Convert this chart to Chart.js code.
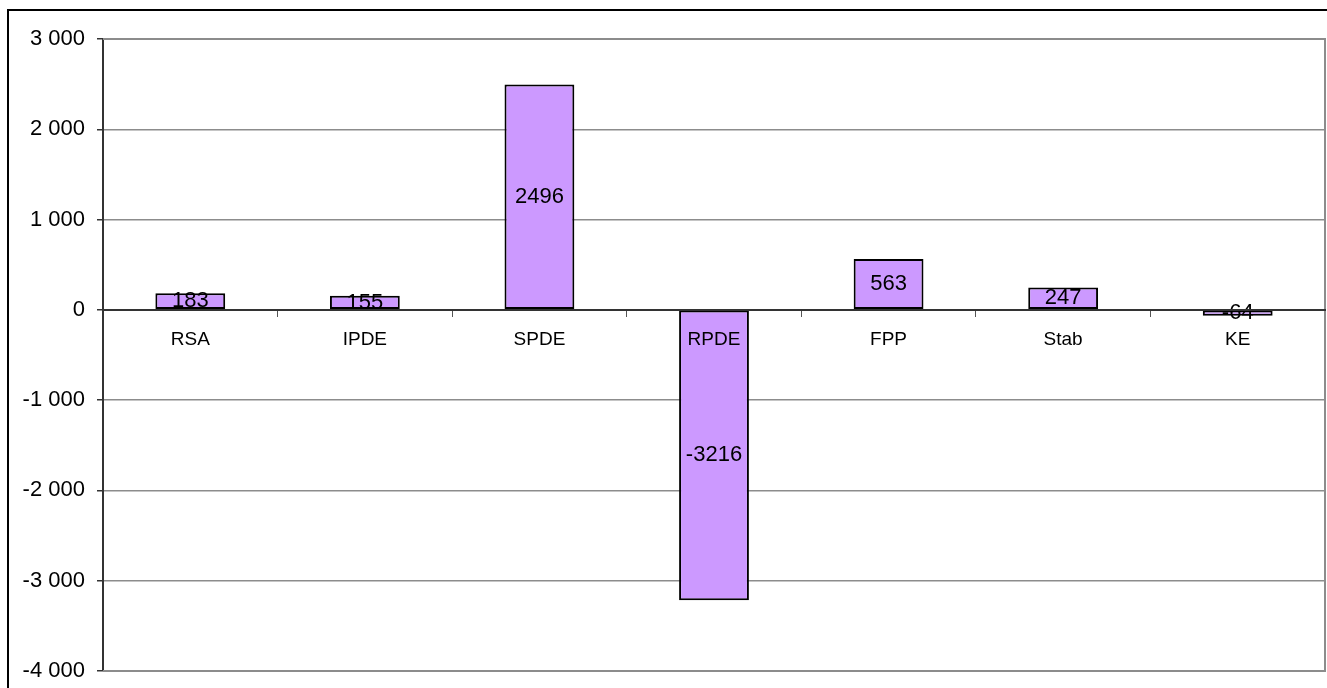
<!DOCTYPE html>
<html>
<head>
<meta charset="utf-8">
<script src="https://cdn.jsdelivr.net/npm/chart.js@4.4.1/dist/chart.umd.min.js"></script>
<style>
  html, body { margin: 0; padding: 0; background: #fff; overflow: hidden; }
  #wrap { position: relative; width: 1327px; height: 688px; }
  #frame {
    position: absolute; left: 7px; top: 9px;
    width: 1340px; height: 700px;
    border: 2px solid #000; box-sizing: border-box;
  }
  #chart { position: absolute; left: 0; top: 0; }
</style>
</head>
<body>
<div id="wrap">
  <div id="frame"></div>
  <canvas id="chart" width="1327" height="688"></canvas>
</div>
<script>
// terms
const kategori = ['RSA', 'IPDE', 'SPDE', 'RPDE', 'FPP', 'Stab', 'KE'];
const nilai = [183, 155, 2496, -3216, 563, 247, -64];

// y axis
const yNilai = [-4000, -3000, -2000, -1000, 0, 1000, 2000, 3000];
const yLabel = ['-4 000', '-3 000', '-2 000', '-1 000', '0', '1 000', '2 000', '3 000'];

const fontUtama = "Arial, 'Liberation Sans', sans-serif";

// gray frame round the plot area
const bingkaiPlot = {
  id: 'bingkaiPlot',
  beforeDatasetsDraw(chart) {
    const { ctx, chartArea: a } = chart;
    ctx.save();
    ctx.strokeStyle = '#8c8c8c';
    ctx.lineWidth = 2;
    ctx.beginPath();
    ctx.moveTo(a.left, a.top);
    ctx.lineTo(a.right, a.top);
    ctx.lineTo(a.right, a.bottom);
    ctx.lineTo(a.left, a.bottom);
    ctx.stroke();
    ctx.restore();
  }
};

// value text in the middle of each bar
const labelNilai = {
  id: 'labelNilai',
  afterDatasetsDraw(chart) {
    const { ctx } = chart;
    const meta = chart.getDatasetMeta(0);
    ctx.save();
    ctx.font = '22px ' + fontUtama;
    ctx.fillStyle = '#000';
    ctx.textAlign = 'center';
    ctx.textBaseline = 'middle';
    meta.data.forEach((bar, i) => {
      const tengah = (bar.y + bar.base) / 2;
      ctx.fillText(String(nilai[i]), bar.x, tengah);
    });
    ctx.restore();
  }
};

new Chart(document.getElementById('chart'), {
  type: 'bar',
  data: {
    labels: kategori,
    datasets: [{
      data: nilai,
      backgroundColor: '#cc99ff',
      borderColor: '#000',
      borderWidth: 2,
      borderSkipped: false,
      categoryPercentage: 1,
      barPercentage: 0.4
    }]
  },
  options: {
    responsive: false,
    animation: false,
    devicePixelRatio: 1,
    layout: { padding: { top: 39, right: 2, bottom: 17, left: 0 } },
    plugins: {
      legend: { display: false },
      tooltip: { enabled: false }
    },
    scales: {
      x: {
        position: { y: 0 },
        offset: true,
        grid: {
          offset: true,
          drawOnChartArea: false,
          drawTicks: true,
          tickLength: 6,
          color: '#555'
        },
        border: { display: true, color: '#333', width: 2, z: 1 },
        ticks: {
          z: 1, // category names sit on top of the bars
          color: '#000',
          padding: 13,
          font: { family: fontUtama, size: 19 }
        }
      },
      y: {
        min: yNilai[0],
        max: yNilai[yNilai.length - 1],
        afterBuildTicks: scale => {
          scale.ticks = yNilai.map(v => ({ value: v }));
        },
        afterFit: scale => {
          scale.width = 103;
          scale.paddingTop = 0;
          scale.paddingBottom = 0;
        },
        grid: {
          color: '#8c8c8c',
          lineWidth: 1.5,
          tickLength: 6,
          tickColor: '#333'
        },
        border: { display: true, color: '#333', width: 2 },
        ticks: {
          color: '#000',
          padding: 12,
          font: { family: fontUtama, size: 22 },
          callback: v => yLabel[yNilai.indexOf(v)]
        }
      }
    }
  },
  plugins: [bingkaiPlot, labelNilai]
});
</script>
</body>
</html>
